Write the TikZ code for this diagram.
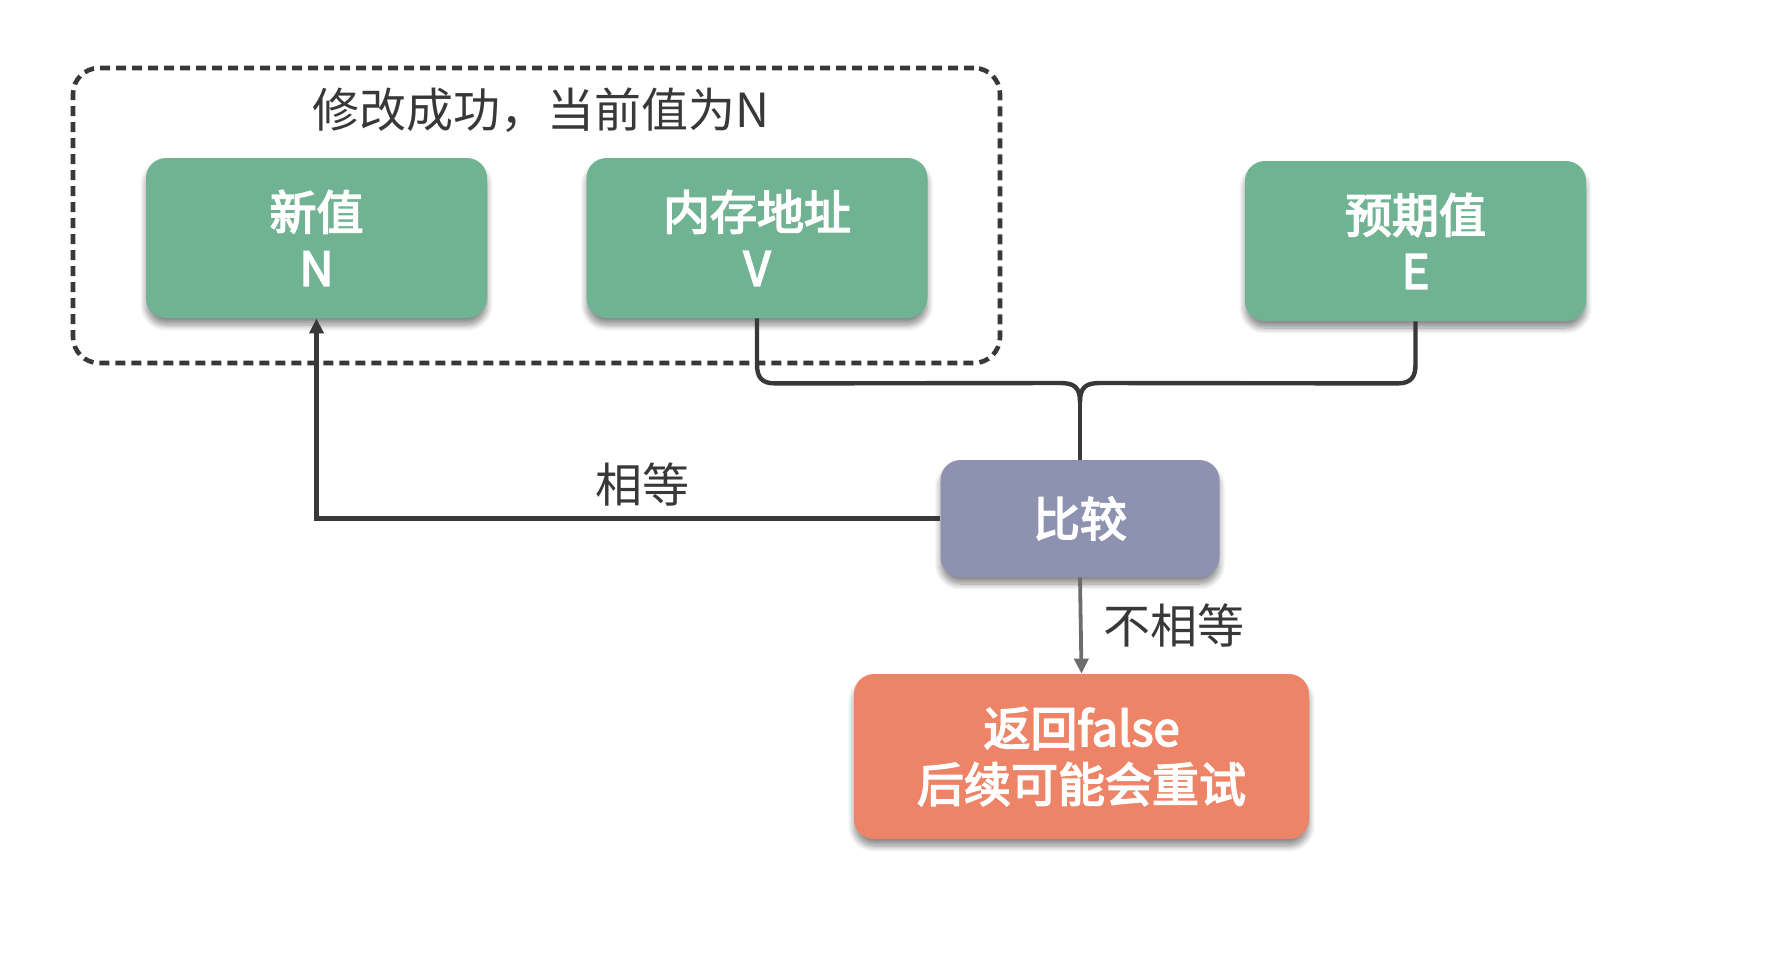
\documentclass[tikz,border=0pt]{standalone}
\usepackage{fontspec}
\setmainfont{Noto Sans CJK SC}
\newfontfamily\cardfont{Noto Sans CJK SC}[FakeBold=3.5]
\usetikzlibrary{shadows.blur,arrows.meta,calc}

\definecolor{boxgreen}{HTML}{6FB392}
\definecolor{boxslate}{HTML}{8D92B0}
\definecolor{boxcoral}{HTML}{EE8467}
\definecolor{ink}{HTML}{383838}
\definecolor{softink}{HTML}{6C6C6C}

\tikzset{
  card/.style={rounded corners=10pt, draw=none, text=white, align=center,
    inner sep=0pt, font=\fontsize{23.5}{28}\selectfont\cardfont,
    blur shadow={shadow xshift=0pt, shadow yshift=-3.5pt,
                 shadow blur steps=8, shadow blur radius=3pt, shadow opacity=45}},
  greencard/.style={card, fill=boxgreen, minimum width=170.5pt, minimum height=80pt},
  link/.style={draw=ink, line width=2.2pt},
  tag/.style={text=ink, font=\fontsize{23.5}{28}\selectfont},
}

\begin{document}
\begin{tikzpicture}[x=0.5pt, y=-0.5pt]
  \useasboundingbox (0,0) rectangle (1766,976);

  % group frame holding the updated value
  \node[draw=ink, line width=2.3pt, dash pattern=on 5pt off 3pt,
        rounded corners=13pt, minimum width=463.5pt, minimum height=147.5pt,
        inner sep=0pt] (grp) at (536.5,215.5) {};
  \node[tag] (title) at (541,110) {修改成功，当前值为N};

  % operand cards
  \node[greencard] (nv)  at (316.5,238) {新值\\N};
  \node[greencard] (mem) at (757,238)   {内存地址\\V};
  \node[greencard] (exp) at (1415.5,241) {预期值\\E};

  % comparison and failure result
  \node[card, fill=boxslate, minimum width=139.5pt, minimum height=58.5pt] (cmp) at (1080,518.5) {比较};
  \node[card, fill=boxcoral, minimum width=227.5pt, minimum height=82.5pt] (ret) at (1081.5,756.5) {返回false\\后续可能会重试};

  % curly brace joining V and E into the comparison
  \coordinate (tip) at (1080,402);
  \draw[link] (mem.south) -- ++(0,46) .. controls +(0,12) and +(-14,0) .. ++(18,19)
              -- (1060,383) .. controls (1074,383) and (1080,387) .. (tip);
  \draw[link] (exp.south) -- ++(0,43) .. controls +(0,12) and +(14,0) .. ++(-18,19)
              -- (1100,383) .. controls (1086,383) and (1080,387) .. (tip);
  \draw[link] (tip) -- (cmp.north);

  % outcomes
  \draw[link, -{Triangle[length=7.5pt, width=7pt]}] (cmp.west) -| (nv.south);
  \node[tag] (eq) at (642,484) {相等};

  \draw[draw=softink, line width=1.9pt, -{Triangle[length=7.5pt, width=7pt]}] (cmp.south) -- (ret.north);
  \node[tag] (neq) at (1174,625) {不相等};
\end{tikzpicture}
\end{document}
